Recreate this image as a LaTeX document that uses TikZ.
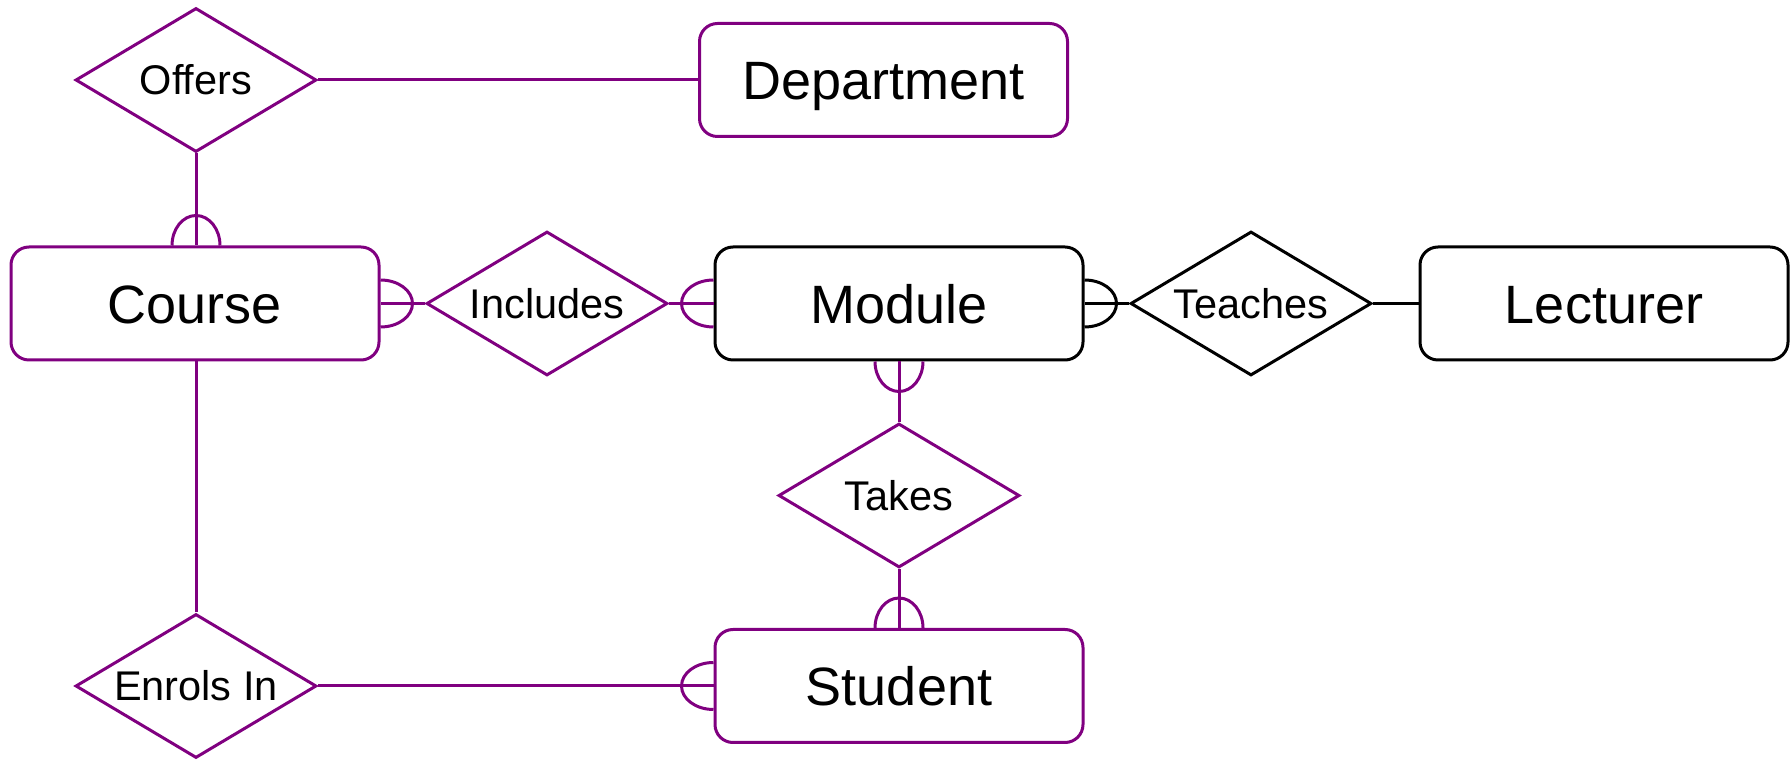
\documentclass[tikz,border=0pt]{standalone}
\usepackage{fontspec}
\setmainfont{Liberation Sans}
\usetikzlibrary{shapes.geometric}
\definecolor{erpurple}{RGB}{128,0,128}
\begin{document}
\begin{tikzpicture}[x=1pt,y=1pt,
  entity/.style={draw, rounded corners=18pt, minimum width=368pt, minimum height=113pt, inner sep=0pt, line width=3pt, text height=40pt, text depth=0pt, font=\fontsize{54}{60}\selectfont},
  rel/.style={draw, diamond, minimum width=241pt, minimum height=144pt, inner sep=0pt, line width=3pt, font=\fontsize{41.5}{48}\selectfont},
  link/.style={line width=3pt},
  ]
\useasboundingbox (0,0) rectangle (1791,760);
% entities
\node[entity, erpurple, text=black] (dept) at (883.5,680) {Department};
\node[entity, erpurple, text=black] (course) at (195,456.5) {Course};
\node[entity, black] (module) at (899,456.5) {Module};
\node[entity, black] (lect) at (1604,456.5) {Lecturer};
\node[entity, erpurple, text=black] (student) at (899,74) {Student};
% relationships
\node[rel, erpurple, text=black] (offers) at (196,680) {\makebox[0pt]{Offers}};
\node[rel, erpurple, text=black] (includes) at (547,456.5) {\makebox[0pt]{Includes}};
\node[rel, black] (teaches) at (1251,456.5) {\makebox[0pt]{Teaches}};
\node[rel, erpurple, text=black] (takes) at (899,264.5) {\makebox[0pt]{Takes}};
\node[rel, erpurple, text=black] (enrols) at (196,74) {\makebox[0pt]{Enrols In}};
% connectors
\draw[link, erpurple] (offers.east) -- (dept.west);
\draw[link, erpurple] (offers.south) -- (offers.south |- course.north);
\draw[link, erpurple] ([xshift=-24pt]offers.south |- course.north) arc[start angle=180, end angle=0, x radius=24pt, y radius=30pt];
\draw[link, erpurple] (enrols.north) -- (enrols.north |- course.south);
\draw[link, erpurple] (enrols.east) -- (student.west);
\draw[link, erpurple] ([yshift=23.5pt]student.west) arc[start angle=90, end angle=270, x radius=32pt, y radius=23.5pt];
\draw[link, erpurple] (includes.west) -- (course.east);
\draw[link, erpurple] ([yshift=23.5pt]course.east) arc[start angle=90, end angle=-90, x radius=32pt, y radius=23.5pt];
\draw[link, erpurple] (includes.east) -- (module.west);
\draw[link, erpurple] ([yshift=23.5pt]module.west) arc[start angle=90, end angle=270, x radius=32pt, y radius=23.5pt];
\draw[link, black] (teaches.west) -- (module.east);
\draw[link, black] ([yshift=23.5pt]module.east) arc[start angle=90, end angle=-90, x radius=32pt, y radius=23.5pt];
\draw[link, black] (teaches.east) -- (lect.west);
\draw[link, erpurple] (takes.north) -- (module.south);
\draw[link, erpurple] ([xshift=-24pt]module.south) arc[start angle=180, end angle=360, x radius=24pt, y radius=30pt];
\draw[link, erpurple] (takes.south) -- (student.north);
\draw[link, erpurple] ([xshift=-24pt]student.north) arc[start angle=180, end angle=0, x radius=24pt, y radius=30pt];
\end{tikzpicture}
\end{document}
